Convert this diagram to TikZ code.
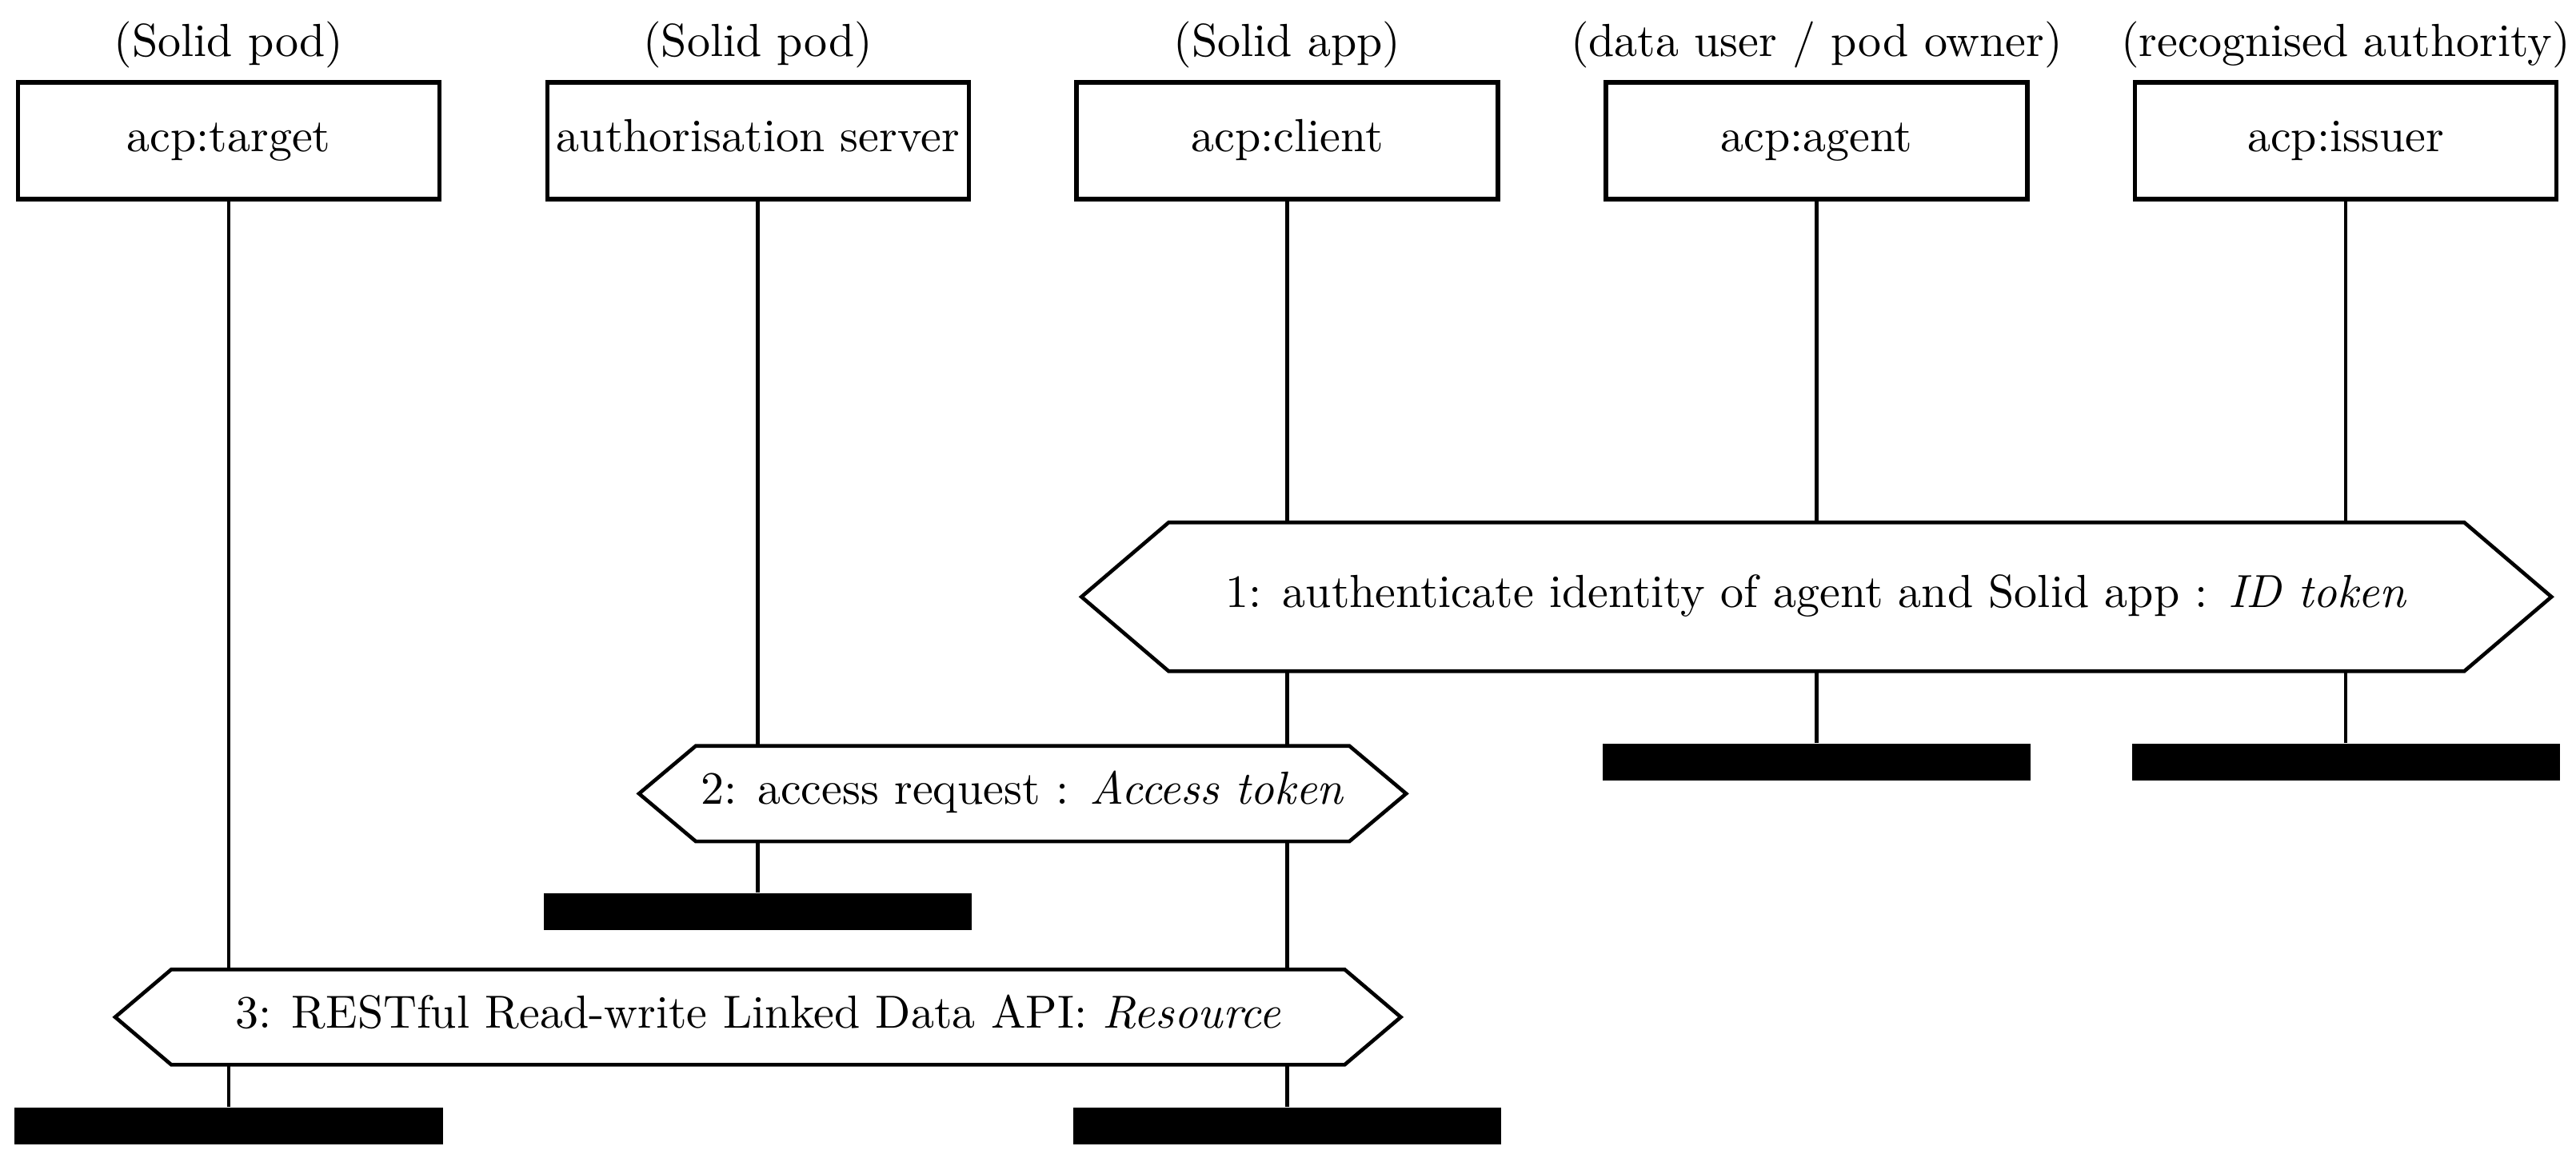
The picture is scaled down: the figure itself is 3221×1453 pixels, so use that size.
\documentclass[tikz,border=0pt]{standalone}
\usepackage{fontspec}
\begin{document}
\begin{tikzpicture}[x=0.172414pt,y=-0.172414pt,
  actor/.style={draw, line width=0.95pt, minimum width=90.86pt, minimum height=25.17pt, inner sep=0pt, text height=6.9pt, text depth=2.07pt},
  role/.style={anchor=base, inner sep=0pt},
  endbar/.style={fill=black, minimum width=92.24pt, minimum height=7.93pt, inner sep=0pt},
  lifeline/.style={line width=0.8pt},
  msgbox/.style={draw, fill=white, line width=0.8pt, line join=miter},
  msgtext/.style={anchor=base, inner sep=0pt}]
\useasboundingbox (0,0) rectangle (3221,1453);
% participants
\node[actor] (b1) at (286,176) {acp:target};
\node[actor] (b2) at (947.75,176) {authorisation server};
\node[actor] (b3) at (1609.5,176) {acp:client};
\node[actor] (b4) at (2271.25,176) {acp:agent};
\node[actor] (b5) at (2933,176) {acp:issuer};
\node[role] (l1) at (286,71) {(Solid pod)};
\node[role] (l2) at (947.75,71) {(Solid pod)};
\node[role] (l3) at (1609.5,71) {(Solid app)};
\node[role] (l4) at (2271.25,71) {(data user / pod owner)};
\node[role] (l5) at (2933,71) {(recognised authority)};
% ends of lifelines
\node[endbar] (e1) at (286,1408) {};
\node[endbar] (e2) at (947.75,1140) {};
\node[endbar] (e3) at (1609.5,1408) {};
\node[endbar] (e4) at (2271.25,953) {};
\node[endbar] (e5) at (2933,953) {};
% lifelines
\draw[lifeline] (b1) -- (e1);
\draw[lifeline] (b2) -- (e2);
\draw[lifeline] (b3) -- (e3);
\draw[lifeline] (b4) -- (e4);
\draw[lifeline] (b5) -- (e5);
% messages
\draw[msgbox] (1352.25,746.3) -- (1461.25,653.3) -- (3081.25,653.3) -- (3190.25,746.3) -- (3081.25,839.3) -- (1461.25,839.3) -- cycle;
\node[msgtext] (m1) at (2271.25,760) {1: authenticate identity of agent and Solid app : \textit{ID token}};
\draw[msgbox] (799,992.4) -- (870,932.7) -- (1687.2,932.7) -- (1758.2,992.4) -- (1687.2,1052.1) -- (870,1052.1) -- cycle;
\node[msgtext] (m2) at (1278.6,1006) {2: access request : \textit{Access token}};
\draw[msgbox] (144,1271.8) -- (214.25,1212.2) -- (1681.25,1212.2) -- (1751.5,1271.8) -- (1681.25,1331.4) -- (214.25,1331.4) -- cycle;
\node[msgtext] (m3) at (947.75,1285.4) {3: RESTful Read-write Linked Data API: \textit{Resource}};
\end{tikzpicture}
\end{document}
